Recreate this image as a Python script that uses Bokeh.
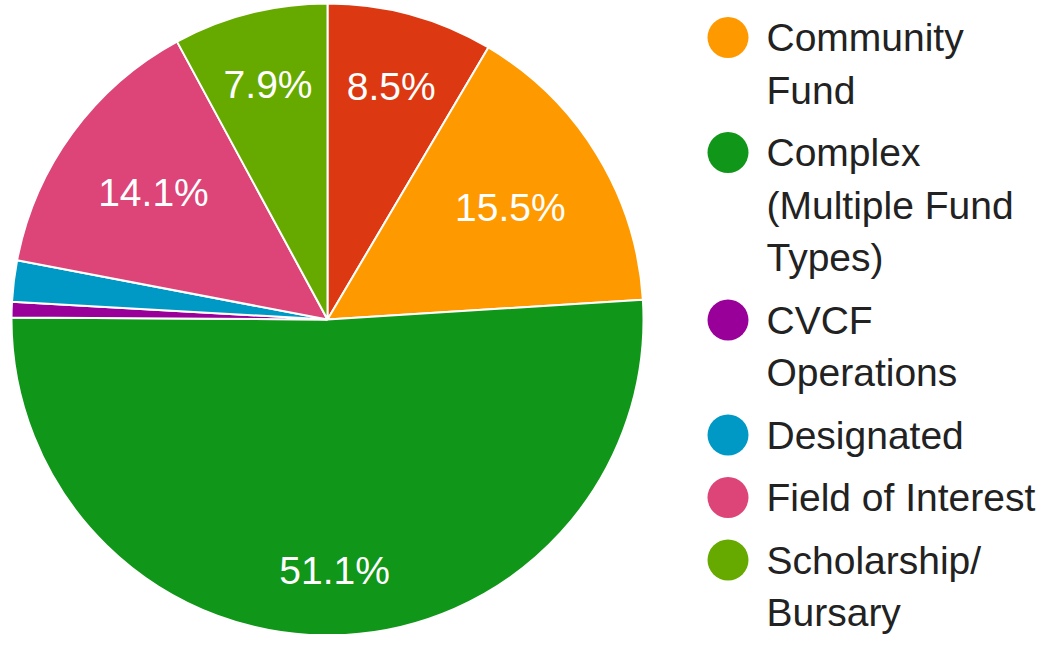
import math
from bokeh.plotting import figure
from bokeh.models import Range1d, ColumnDataSource
from bokeh.core.properties import value
from bokeh.embed import file_html
from bokeh.resources import INLINE

# ---- data ----
categories = ["Agency", "Community Fund", "Complex (Multiple Fund Types)",
              "CVCF Operations", "Designated", "Field of Interest", "Scholarship/Bursary"]
legend_lines = [["Agency"], ["Community", "Fund"], ["Complex", "(Multiple Fund", "Types)"],
                ["CVCF", "Operations"], ["Designated"], ["Field of Interest"],
                ["Scholarship/", "Bursary"]]
shares = [8.5, 15.5, 51.1, 0.8, 2.1, 14.1, 7.9]
colors = ["#dc3912", "#ff9900", "#109618", "#990099", "#0099c6", "#dd4477", "#66aa00"]

# ---- layout ----
W, H = 1041, 634
FONT = "Liberation Sans"
FS = 39


def px(x):
    return x


def py(y):
    return H - y


p = figure(width=W, height=H, x_range=Range1d(0, W), y_range=Range1d(0, H),
           output_backend="svg", toolbar_location=None, min_border=0)
p.axis.visible = False
p.grid.visible = False
p.outline_line_color = None
p.background_fill_color = "white"
p.border_fill_color = "white"

cx, cy, R = px(327), py(319), 316
total = sum(shares)
starts, ends = [], []
cum = 0.0
for s in shares:
    starts.append(math.pi / 2 - 2 * math.pi * cum / total)
    cum += s
    ends.append(math.pi / 2 - 2 * math.pi * cum / total)

src = ColumnDataSource(dict(start=starts, end=ends, color=colors, cat=categories))
p.wedge(x=cx, y=cy, radius=R, start_angle="start", end_angle="end", direction="clock",
        fill_color="color", line_color="white", line_width=2, source=src)

# percentage labels
cw = {"0": 556, "1": 556, "2": 556, "3": 556, "4": 556, "5": 556, "6": 556, "7": 556,
      "8": 556, "9": 556, ".": 278, "%": 889}
lx, ly, lt = [], [], []
for s, a0, a1 in zip(shares, starts, ends):
    if s / total < 0.05:
        continue
    t = f"{s / total * 100:.1f}%"
    w = sum(cw[c] for c in t) * FS / 1000
    m = (a0 + a1) / 2
    r = 0.86 * R - (w / 2 * abs(math.cos(m)) + FS / 2 * abs(math.sin(m)))
    lx.append(cx + r * math.cos(m))
    ly.append(cy + r * math.sin(m))
    lt.append(t)
p.text(x=lx, y=ly, text=lt, text_color="white", text_font=value(FONT),
       text_font_size=f"{FS}px", text_align="center", text_baseline="middle")

# legend
mx, my, mc = [], [], []
tx, ty, tt = [], [], []
LH, STEP = 52.5, 62.5
y0 = 37 - STEP
for lines, c in zip(legend_lines, colors):
    mx.append(px(727.5))
    my.append(py(y0))
    mc.append(c)
    for k, line in enumerate(lines):
        tx.append(px(766))
        ty.append(py(y0 + k * LH))
        tt.append(line)
    y0 += STEP + (len(lines) - 1) * LH
p.scatter(x=mx, y=my, size=41, fill_color=mc, line_color=None)
p.text(x=tx, y=ty, text=tt, text_color="#222222", text_font=value(FONT),
       text_font_size=f"{FS}px", text_align="left", text_baseline="middle")

open("out.html", "w").write(file_html(p, INLINE))
